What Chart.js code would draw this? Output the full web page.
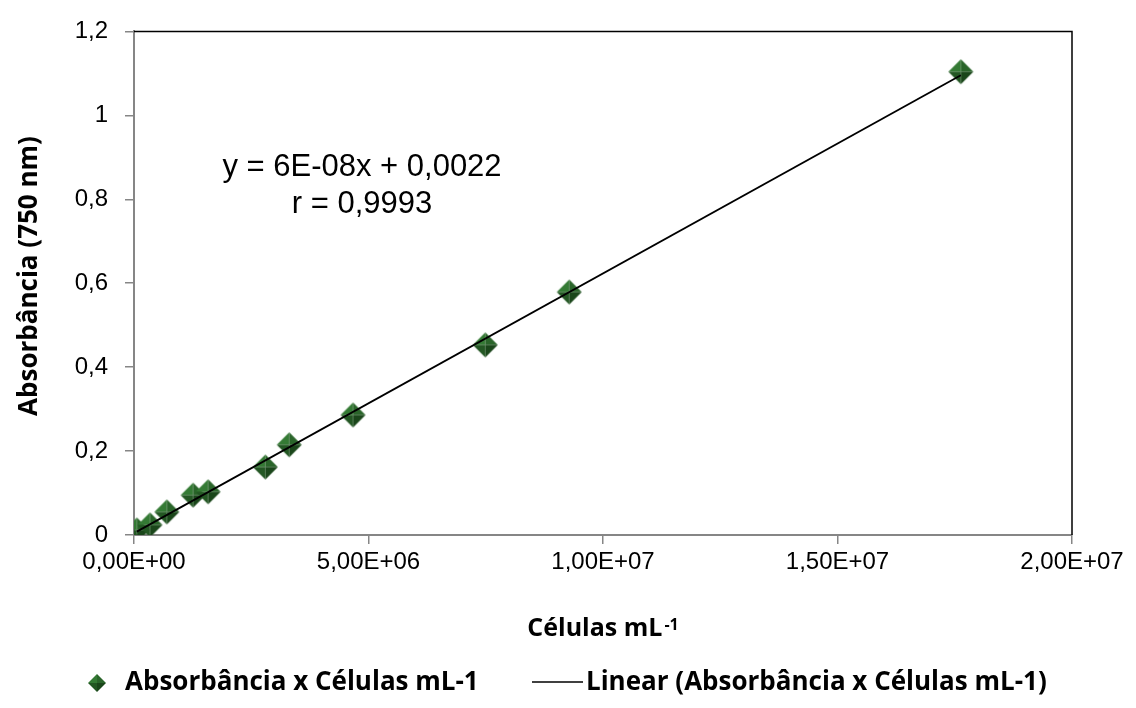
<!DOCTYPE html>
<html>
<head>
<meta charset="utf-8">
<script src="https://cdn.jsdelivr.net/npm/chart.js@4"></script>
<style>
  html, body { margin: 0; padding: 0; background: #fff; }
  #wrap { width: 1136px; height: 708px; }
</style>
</head>
<body>
<div id="wrap"><canvas id="c" width="1136" height="708"></canvas></div>
<script>
// Calibration: cell density (cells per mL) vs absorbance at 750 nm
const cells = [0.06e6, 0.34e6, 0.70e6, 1.26e6, 1.58e6, 2.80e6, 3.31e6, 4.67e6, 7.49e6, 9.28e6, 17.63e6];
const absorbance = [0.012, 0.024, 0.055, 0.095, 0.103, 0.162, 0.215, 0.286, 0.453, 0.579, 1.104];

const xTicks = [0, 5e6, 1e7, 1.5e7, 2e7];
const yTicks = [0, 0.2, 0.4, 0.6, 0.8, 1, 1.2];

const seriesLabel = 'Absorbância x Células mL-1';
const trendLabel = 'Linear (Absorbância x Células mL-1)';
const equationLines = ['y = 6E-08x + 0,0022', 'r = 0,9993'];
const xTitle = 'Células mL';
const xTitleSup = '-1';
const yTitle = 'Absorbância (750 nm)';

// Least-squares linear trendline over the measured range
function linearFit(xs, ys) {
  const n = xs.length;
  const mx = xs.reduce((a, b) => a + b, 0) / n;
  const my = ys.reduce((a, b) => a + b, 0) / n;
  let sxy = 0, sxx = 0;
  for (let i = 0; i < n; i++) { sxy += (xs[i] - mx) * (ys[i] - my); sxx += (xs[i] - mx) ** 2; }
  const slope = sxy / sxx;
  return { slope, intercept: my - slope * mx };
}
const fit = linearFit(cells, absorbance);
const xMin = Math.min(...cells), xMax = Math.max(...cells);
const trendPoints = [xMin, xMax].map(x => ({ x, y: fit.slope * x + fit.intercept }));

// Shaded diamond marker
function makeDiamond(r) {
  const s = Math.ceil(r * 2) + 4;
  const raw = document.createElement('canvas');
  raw.width = raw.height = s;
  const g = raw.getContext('2d');
  const m = s / 2;
  const facets = [
    [[m, m - r], [m - r, m], '#347a34'],
    [[m, m - r], [m + r, m], '#2a652a'],
    [[m + r, m], [m, m + r], '#1a461a'],
    [[m, m + r], [m - r, m], '#235723']
  ];
  facets.forEach(([a, b, col]) => {
    g.beginPath(); g.moveTo(m, m); g.lineTo(a[0], a[1]); g.lineTo(b[0], b[1]); g.closePath();
    g.fillStyle = col; g.fill();
  });
  const out = document.createElement('canvas');
  out.width = out.height = s;
  const o = out.getContext('2d');
  o.filter = 'blur(0.6px)';
  o.drawImage(raw, 0, 0);
  return out;
}
const marker = makeDiamond(12.5);
const legendMarker = makeDiamond(9);

function sciLabel(v) {
  if (v === 0) return '0,00E+00';
  const e = Math.floor(Math.log10(Math.abs(v)));
  const mant = (v / Math.pow(10, e)).toFixed(2).replace('.', ',');
  return mant + 'E' + (e < 0 ? '-' : '+') + String(Math.abs(e)).padStart(2, '0');
}
function decLabel(v) {
  return String(Math.round(v * 10) / 10).replace('.', ',');
}

const AXIS_GREY = '#868686';
const tickFont = { family: 'Liberation Sans', size: 24 };
const TITLE_FONT = 'bold 26px "Open Sans"';

const decorations = {
  id: 'decorations',
  afterDraw(chart) {
    const { ctx, chartArea: a } = chart;
    ctx.save();
    // plot area frame (top & right)
    ctx.strokeStyle = '#000';
    ctx.lineWidth = 1.5;
    ctx.beginPath();
    ctx.moveTo(a.left, a.top); ctx.lineTo(a.right, a.top); ctx.lineTo(a.right, a.bottom);
    ctx.stroke();

    // regression equation
    ctx.fillStyle = '#000';
    ctx.font = '31px "Liberation Sans"';
    ctx.textAlign = 'center';
    ctx.textBaseline = 'alphabetic';
    ctx.fillText(equationLines[0], 362, 176);
    ctx.fillText(equationLines[1], 362, 213);

    // x axis title with superscript
    ctx.textAlign = 'left';
    ctx.font = 'bold 25px "Open Sans"';
    const wMain = ctx.measureText(xTitle).width;
    ctx.font = 'bold 16px "Open Sans"';
    const wSup = ctx.measureText(xTitleSup).width;
    const x0 = 602 - (wMain + wSup) / 2;
    ctx.font = 'bold 25px "Open Sans"';
    ctx.fillText(xTitle, x0, 636);
    ctx.font = 'bold 16px "Open Sans"';
    ctx.fillText(xTitleSup, x0 + wMain + 2, 630);

    // y axis title
    ctx.save();
    ctx.translate(37, 276);
    ctx.rotate(-Math.PI / 2);
    ctx.font = TITLE_FONT;
    ctx.textAlign = 'center';
    ctx.fillText(yTitle, 0, 0);
    ctx.restore();

    // legend
    const ly = 683;
    ctx.drawImage(legendMarker, 97 - legendMarker.width / 2, ly - legendMarker.height / 2);
    ctx.font = TITLE_FONT;
    ctx.textAlign = 'left';
    ctx.textBaseline = 'middle';
    ctx.fillText(seriesLabel, 125, ly);
    ctx.strokeStyle = '#000';
    ctx.lineWidth = 1.3;
    ctx.beginPath(); ctx.moveTo(532, ly - 1); ctx.lineTo(583, ly - 1); ctx.stroke();
    ctx.fillText(trendLabel, 586, ly);
    ctx.restore();
  }
};

new Chart(document.getElementById('c'), {
  type: 'scatter',
  data: {
    datasets: [
      {
        label: seriesLabel,
        data: cells.map((x, i) => ({ x, y: absorbance[i] })),
        pointStyle: marker,
        order: 1
      },
      {
        type: 'line',
        label: trendLabel,
        data: trendPoints,
        borderColor: '#000',
        borderWidth: 1.8,
        pointRadius: 0,
        fill: false,
        order: 0
      }
    ]
  },
  options: {
    responsive: false,
    animation: false,
    events: [],
    devicePixelRatio: 1,
    layout: { padding: { top: 31, right: 64, bottom: 0, left: 0 } },
    plugins: { legend: { display: false }, tooltip: { enabled: false } },
    scales: {
      x: {
        type: 'linear',
        min: 0, max: 2e7,
        afterBuildTicks: s => { s.ticks = xTicks.map(v => ({ value: v })); },
        afterFit: s => { s.height = 173; },
        ticks: { callback: v => sciLabel(v), font: tickFont, color: '#000', padding: 4, maxRotation: 0 },
        grid: { drawOnChartArea: false, drawTicks: true, tickLength: 9, color: AXIS_GREY, lineWidth: 1.5 },
        border: { color: AXIS_GREY, width: 2 }
      },
      y: {
        type: 'linear',
        min: 0, max: 1.2,
        afterBuildTicks: s => { s.ticks = yTicks.map(v => ({ value: v })); },
        afterFit: s => { s.width = 134; },
        ticks: { callback: v => decLabel(v), font: tickFont, color: '#000', padding: 17 },
        grid: { drawOnChartArea: false, drawTicks: true, tickLength: 9, color: AXIS_GREY, lineWidth: 1.5 },
        border: { color: AXIS_GREY, width: 2 }
      }
    }
  },
  plugins: [decorations]
});
</script>
</body>
</html>
